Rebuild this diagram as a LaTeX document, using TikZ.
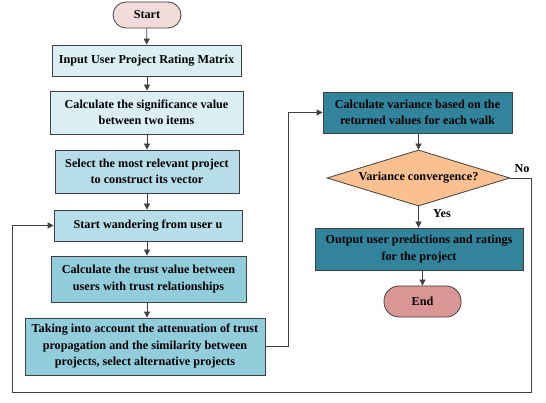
\documentclass[tikz,border=0pt]{standalone}
\usepackage{fontspec}
\setmainfont{Liberation Serif}
\usetikzlibrary{shapes.geometric,arrows.meta,positioning}
\definecolor{cstart}{HTML}{F2DCDB}
\definecolor{cl1}{HTML}{DAEEF3}
\definecolor{cl2}{HTML}{B7DDE8}
\definecolor{cl3}{HTML}{92CDDC}
\definecolor{cteal}{HTML}{31849B}
\definecolor{cdia}{HTML}{FAC090}
\definecolor{cend}{HTML}{D99694}
\definecolor{cline}{HTML}{404040}
\tikzset{
  box/.style={draw=cline, line width=0.8pt, align=center, inner sep=0pt,
    font=\bfseries\fontsize{12.2}{16.5}\selectfont},
  term/.style={box, rounded corners=13pt},
  dia/.style={draw=cline, line width=0.8pt, diamond, aspect=3.27, inner sep=0pt,
    font=\bfseries\fontsize{12.2}{16}\selectfont},
  conn/.style={draw=cline, line width=0.8pt, -{Triangle[length=6pt,width=6pt]}},
  lab/.style={font=\bfseries\fontsize{12.2}{14}\selectfont}
}
\begin{document}
\begin{tikzpicture}[x=1pt,y=-1pt]
\useasboundingbox (0,0) rectangle (546,403);
\node[term, fill=cstart, minimum width=68pt, minimum height=26pt] (start) at (147,15) {Start};
\node[box, fill=cl1, minimum width=189pt, minimum height=31pt] (b1) at (146.5,60.5) {Input User Project Rating Matrix};
\node[box, fill=cl1, minimum width=193pt, minimum height=43pt] (b2) at (146.5,112.5) {Calculate the significance value\\between two items};
\node[box, fill=cl2, minimum width=184pt, minimum height=43pt] (b3) at (147,171.5) {Select the most relevant project\\to construct its vector};
\node[box, fill=cl2, minimum width=188pt, minimum height=31pt] (b4) at (148,225.5) {Start wandering from user u};
\node[box, fill=cl3, minimum width=195pt, minimum height=46pt] (b5) at (148.5,279) {Calculate the trust value between\\users with trust relationships};
\node[box, fill=cl3, minimum width=240pt, minimum height=57pt] (b6) at (145,346.5) {Taking into account the attenuation of trust\\propagation and the similarity between\\projects, select alternative projects};
\node[box, fill=cteal, minimum width=189pt, minimum height=41pt] (b7) at (417.5,112.5) {Calculate variance based on the\\returned values for each walk};
\node[dia, fill=cdia, minimum width=183pt, minimum height=56pt] (d) at (418.5,178) {Variance convergence?};
\node[box, fill=cteal, minimum width=208pt, minimum height=42pt] (b8) at (419,249) {Output user predictions and ratings\\for the project};
\node[term, fill=cend, minimum width=77pt, minimum height=31pt, rounded corners=15pt] (end) at (422.5,301.5) {End};
\coordinate (c1) at (288,346.5);
\coordinate (c2) at (288,112.5);
\coordinate (n1) at (531,178);
\coordinate (n2) at (531,392);
\coordinate (n3) at (12,392);
\coordinate (n4) at (12,225.5);
\draw[conn] (start) -- (b1);
\draw[conn] (b1.south -| start) -- (b2.north -| start);
\draw[conn] (b2.south -| start) -- (b3.north -| start);
\draw[conn] (b3.south -| start) -- (b4.north -| start);
\draw[conn] (b4.south -| start) -- (b5.north -| start);
\draw[conn] (b5.south -| start) -- (b6.north -| start);
\draw[conn] (b6.east) -- (c1) -- (c2) -- (b7.west);
\draw[conn] (b7.south -| d) -- (d.north);
\draw[conn] (d.south) -- (b8.north -| d);
\draw[conn] (b8.south -| end) -- (end.north);
\draw[conn] (d.east) -- (n1) -- (n2) -- (n3) -- (n4) -- (b4.west);
\node[lab] (yes) at (442,214) {Yes};
\node[lab] (no) at (522,169) {No};
\end{tikzpicture}
\end{document}
